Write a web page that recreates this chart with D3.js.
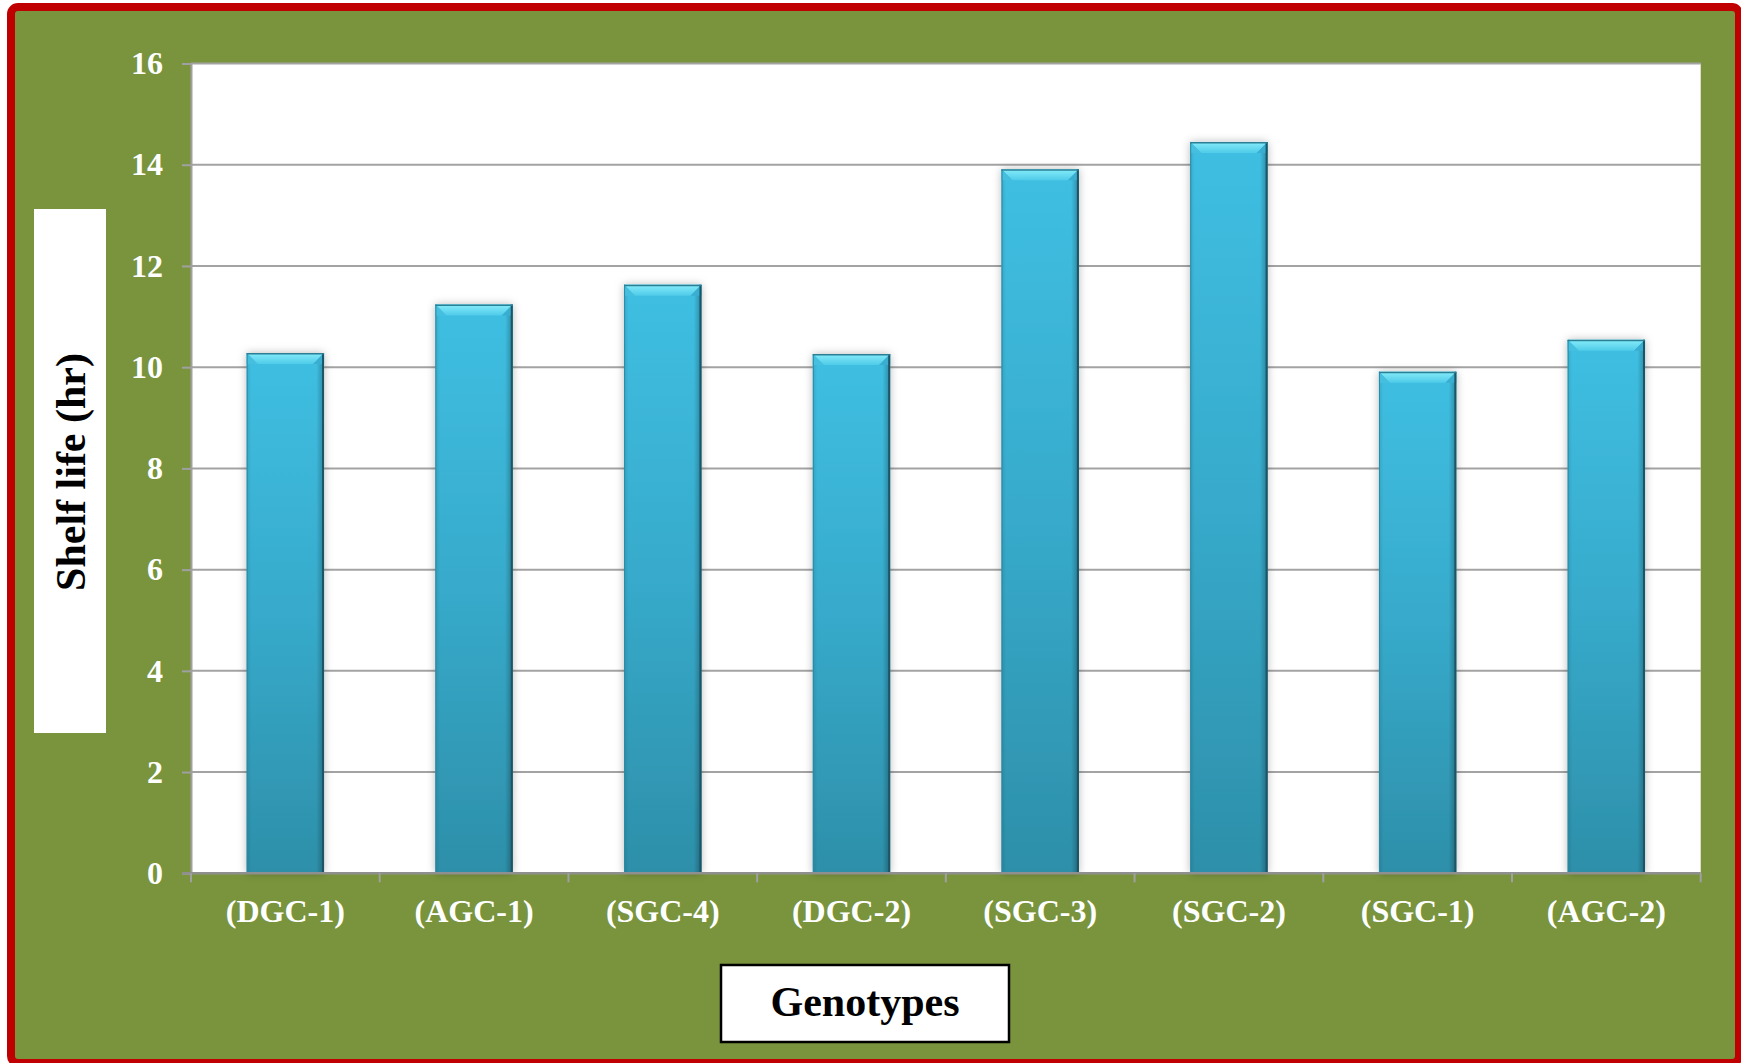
<!DOCTYPE html>
<html>
<head>
<meta charset="utf-8">
<script src="https://cdn.jsdelivr.net/npm/d3@7"></script>
<style>
  html, body { margin: 0; padding: 0; background: #ffffff; }
  svg { display: block; }
  text { font-family: "Liberation Serif", "Times New Roman", Times, serif; font-weight: bold; }
</style>
</head>
<body>
<svg id="chart" width="1741" height="1063"></svg>
<script>
// Shelf life of the genotypes (hours)
const genotypes = ["(DGC-1)", "(AGC-1)", "(SGC-4)", "(DGC-2)", "(SGC-3)", "(SGC-2)", "(SGC-1)", "(AGC-2)"];
const shelfLife = [10.28, 11.24, 11.63, 10.26, 13.91, 14.45, 9.91, 10.54];
const yTicks = [0, 2, 4, 6, 8, 10, 12, 14, 16];

const W = 1741, H = 1063;
const plot = { left: 191, right: 1700.7, top: 63.5, bottom: 873.3 };

const svg = d3.select("#chart");

// frame: red border around the green panel
svg.append("rect")
  .attr("x", 11).attr("y", 7)
  .attr("width", 1728).attr("height", 1056)
  .attr("rx", 7)
  .attr("fill", "#79943d")
  .attr("stroke", "#c00000")
  .attr("stroke-width", 8);

const defs = svg.append("defs");

const body = defs.append("linearGradient").attr("id", "barBody")
  .attr("x1", 0).attr("y1", 0).attr("x2", 0).attr("y2", 1);
body.append("stop").attr("offset", "0%").attr("stop-color", "#3fbfe2");
body.append("stop").attr("offset", "50%").attr("stop-color", "#37aacb");
body.append("stop").attr("offset", "100%").attr("stop-color", "#2d8fa9");

const side = defs.append("linearGradient").attr("id", "barSide")
  .attr("x1", 0).attr("y1", 0).attr("x2", 1).attr("y2", 0);
side.append("stop").attr("offset", "0%").attr("stop-color", "#000000").attr("stop-opacity", 0.10);
side.append("stop").attr("offset", "6%").attr("stop-color", "#000000").attr("stop-opacity", 0);
side.append("stop").attr("offset", "90%").attr("stop-color", "#000000").attr("stop-opacity", 0);
side.append("stop").attr("offset", "100%").attr("stop-color", "#000000").attr("stop-opacity", 0.28);

const bevel = defs.append("linearGradient").attr("id", "barBevel")
  .attr("x1", 0).attr("y1", 0).attr("x2", 0).attr("y2", 1);
bevel.append("stop").attr("offset", "0%").attr("stop-color", "#86ecfa");
bevel.append("stop").attr("offset", "100%").attr("stop-color", "#4fcbe9");

const shadow = defs.append("filter").attr("id", "barShadow")
  .attr("x", "-30%").attr("y", "-5%").attr("width", "160%").attr("height", "110%");
shadow.append("feDropShadow")
  .attr("dx", 0).attr("dy", 0).attr("stdDeviation", 4)
  .attr("flood-color", "#000000").attr("flood-opacity", 0.28);

// scales
const x = d3.scaleBand()
  .domain(genotypes)
  .range([plot.left, plot.right])
  .paddingInner(0.59)
  .paddingOuter(0.295);

const y = d3.scaleLinear()
  .domain([0, 16])
  .range([plot.bottom, plot.top]);

// plot area
svg.append("rect")
  .attr("x", plot.left).attr("y", plot.top)
  .attr("width", plot.right - plot.left).attr("height", plot.bottom - plot.top)
  .attr("fill", "#ffffff");

// horizontal gridlines
svg.append("g").selectAll("line")
  .data(yTicks.filter(d => d > 0))
  .join("line")
  .attr("x1", plot.left).attr("x2", plot.right)
  .attr("y1", d => y(d)).attr("y2", d => y(d))
  .attr("stroke", "#a3a3a3").attr("stroke-width", 2);

// y axis
const yAxis = svg.append("g")
  .attr("transform", `translate(${plot.left},0)`)
  .call(d3.axisLeft(y).tickValues(yTicks).tickSize(9).tickPadding(19).tickSizeOuter(0));
yAxis.select(".domain").attr("stroke", "#a0a0a0").attr("stroke-width", 2);
yAxis.selectAll(".tick line").attr("stroke", "#a0a0a0").attr("stroke-width", 2);
yAxis.selectAll(".tick text")
  .attr("fill", "#ffffff")
  .style("font-family", '"Liberation Serif", "Times New Roman", serif')
  .style("font-weight", "bold")
  .style("font-size", "32px");

// bars
const bars = svg.append("g").selectAll("g")
  .data(genotypes.map((g, i) => ({ g, v: shelfLife[i] })))
  .join("g");

const bw = x.bandwidth();
const bev = 11;

bars.append("rect")
  .attr("x", d => x(d.g)).attr("y", d => y(d.v))
  .attr("width", bw).attr("height", d => y(0) - y(d.v))
  .attr("fill", "url(#barBody)")
  .attr("filter", "url(#barShadow)");

bars.append("rect")
  .attr("x", d => x(d.g)).attr("y", d => y(d.v))
  .attr("width", bw).attr("height", d => y(0) - y(d.v))
  .attr("fill", "url(#barSide)");

// top bevel
bars.append("path")
  .attr("d", d => {
    const x0 = x(d.g), x1 = x0 + bw, t = y(d.v);
    return `M${x0},${t}L${x1},${t}L${x1 - bev},${t + bev}L${x0 + bev},${t + bev}Z`;
  })
  .attr("fill", "url(#barBevel)");

// bevel corners, slightly shaded
bars.append("path")
  .attr("d", d => {
    const x0 = x(d.g), t = y(d.v);
    return `M${x0},${t}L${x0 + bev},${t + bev}L${x0},${t + bev}Z`;
  })
  .attr("fill", "#46bfdf");
bars.append("path")
  .attr("d", d => {
    const x1 = x(d.g) + bw, t = y(d.v);
    return `M${x1},${t}L${x1 - bev},${t + bev}L${x1},${t + bev}Z`;
  })
  .attr("fill", "#3aaed0");

// bar outlines: dark right edge, darker top edge
bars.append("line")
  .attr("x1", d => x(d.g) + bw - 1).attr("x2", d => x(d.g) + bw - 1)
  .attr("y1", d => y(d.v)).attr("y2", y(0))
  .attr("stroke", "#1b5566").attr("stroke-width", 2);
bars.append("line")
  .attr("x1", d => x(d.g) + 0.5).attr("x2", d => x(d.g) + 0.5)
  .attr("y1", d => y(d.v)).attr("y2", y(0))
  .attr("stroke", "#2a8aa5").attr("stroke-width", 1);
bars.append("line")
  .attr("x1", d => x(d.g)).attr("x2", d => x(d.g) + bw)
  .attr("y1", d => y(d.v) + 0.75).attr("y2", d => y(d.v) + 0.75)
  .attr("stroke", "#2b7f95").attr("stroke-width", 1.5);

// x axis line and category boundary ticks
svg.append("line")
  .attr("x1", plot.left - 9).attr("x2", plot.right)
  .attr("y1", plot.bottom).attr("y2", plot.bottom)
  .attr("stroke", "#8f8f8f").attr("stroke-width", 2.5);

const step = x.step();
svg.append("g").selectAll("line")
  .data(d3.range(genotypes.length + 1))
  .join("line")
  .attr("x1", i => plot.left + i * step).attr("x2", i => plot.left + i * step)
  .attr("y1", plot.bottom).attr("y2", plot.bottom + 9)
  .attr("stroke", "#a0a0a0").attr("stroke-width", 2);

// category labels
svg.append("g").selectAll("text")
  .data(genotypes)
  .join("text")
  .attr("x", d => x(d) + bw / 2)
  .attr("y", 921.5)
  .attr("text-anchor", "middle")
  .attr("fill", "#ffffff")
  .style("font-size", "32px")
  .text(d => d);

// y axis title box
svg.append("rect")
  .attr("x", 34).attr("y", 209)
  .attr("width", 72).attr("height", 524)
  .attr("fill", "#ffffff");
svg.append("text")
  .attr("transform", "translate(71,472) rotate(-90)")
  .attr("text-anchor", "middle")
  .attr("dominant-baseline", "central")
  .attr("fill", "#000000")
  .style("font-size", "42px")
  .text("Shelf life (hr)");

// x axis title box
svg.append("rect")
  .attr("x", 721).attr("y", 965)
  .attr("width", 288).attr("height", 77)
  .attr("fill", "#ffffff")
  .attr("stroke", "#000000")
  .attr("stroke-width", 2.5);
svg.append("text")
  .attr("x", 865).attr("y", 1016)
  .attr("text-anchor", "middle")
  .attr("fill", "#000000")
  .style("font-size", "42px")
  .text("Genotypes");
</script>
</body>
</html>
